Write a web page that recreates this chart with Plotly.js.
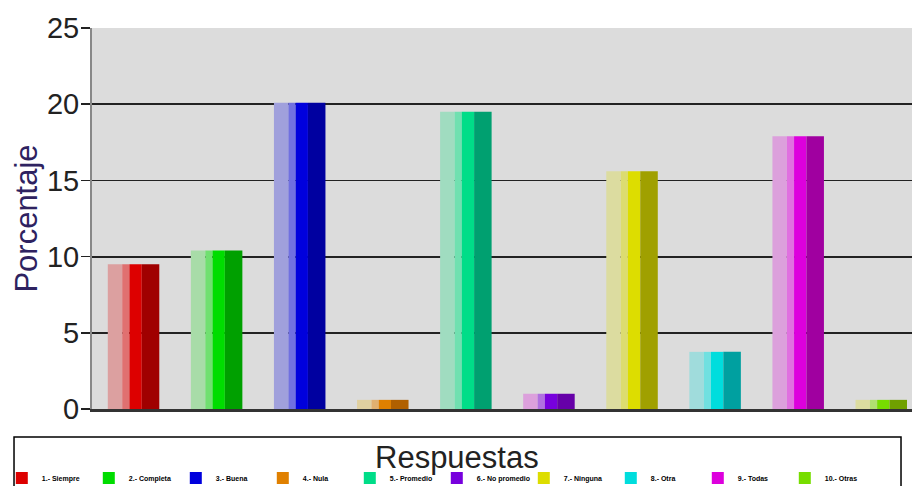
<!DOCTYPE html>
<html><head><meta charset="utf-8">
<script src="https://cdn.plot.ly/plotly-3.0.1.min.js"></script>
<style>html,body{margin:0;padding:0;background:#fff;}#chart{width:912px;height:486px;}</style>
</head><body><div id="chart"></div>
<script>
const categories = ["1.- Siempre","2.- Completa","3.- Buena","4.- Nula","5.- Promedio","6.- No promedio","7.- Ninguna","8.- Otra","9.- Todas","10.- Otras"];
const values = [9.5, 10.4, 20.1, 0.6, 19.5, 1.0, 15.6, 3.75, 17.9, 0.6];
const lightColors  = ["#dca0a0","#a8dca8","#a0a0dc","#e0d0a0","#a0dcc0","#dca0dc","#dcdca0","#a0dcdc","#dca0dc","#dcdca0"];
const midColors    = ["#e07070","#70e070","#7070e0","#e0b070","#70e0b0","#b070e0","#dcdc70","#70e0e0","#e070e0","#b0e070"];
const brightColors = ["#dd0000","#00dd00","#0000dd","#e08000","#00dd88","#7700dd","#dddd00","#00dddd","#dd00dd","#77dd00"];
const darkColors   = ["#a00000","#00a000","#0000a0","#b06000","#00a070","#6600a8","#a0a000","#00a0a0","#a000a0","#70a000"];
const xTitle = "Respuestas";
const yTitle = "Porcentaje";

const W = 0.62;
const stripes = [
  {c: lightColors, s: 0.0, e: 0.28},
  {c: midColors, s: 0.28, e: 0.42},
  {c: brightColors, s: 0.42, e: 0.66},
  {c: darkColors, s: 0.66, e: 1.0}
];
const traces = [];
categories.forEach((cat, i) => {
  stripes.forEach((st, k) => {
    traces.push({
      type: 'bar', x: [cat], y: [values[i]],
      name: cat, legendgroup: cat,
      showlegend: k === 2,
      width: (st.e - st.s) * W,
      offset: -W/2 + st.s * W,
      marker: {color: st.c[i], line: {width: 0}},
      hoverinfo: 'x+y'
    });
  });
});

const layout = {
  width: 912, height: 486,
  margin: {l: 92, r: 0, t: 28, b: 77, autoexpand: false},
  paper_bgcolor: '#ffffff', plot_bgcolor: '#dcdcdc',
  barmode: 'overlay',
  font: {family: 'Liberation Sans, Arial, sans-serif', color: '#222'},
  xaxis: {
    type: 'category', range: [-0.5, 9.37],
    showticklabels: false, ticks: '', showgrid: false,
    showline: true, linecolor: '#333', linewidth: 2.5, zeroline: false
  },
  yaxis: {
    range: [0, 25], dtick: 5, tick0: 0,
    ticks: 'outside', ticklen: 9, tickcolor: '#222', tickwidth: 1.5,
    tickfont: {size: 29, color: '#222'},
    ticklabelstandoff: -4,
    showgrid: true, gridcolor: '#222', gridwidth: 1.8,
    showline: true, linecolor: '#888', linewidth: 2,
    zeroline: false,
    title: {text: yTitle, font: {size: 31, color: '#2e2260'}, standoff: 0}
  },
  shapes: [{
    type: 'rect', xref: 'paper', yref: 'paper', layer: 'below',
    x0: -0.0951, x1: 0.9866, y0: -0.0735, y1: -0.3,
    line: {color: '#000', width: 1.5}, fillcolor: '#fff'
  }],
  annotations: [{
    text: xTitle, xref: 'paper', yref: 'paper', x: 0.445, y: -0.126,
    xanchor: 'center', yanchor: 'middle', showarrow: false,
    font: {size: 31, color: '#222'}
  }],
  legend: {
    orientation: 'h', x: -0.110, xanchor: 'left', y: -0.181, yanchor: 'middle',
    borderwidth: 0, bgcolor: 'rgba(0,0,0,0)',
    font: {size: 7, color: '#000', weight: 'bold'},
    entrywidth: 42, entrywidthmode: 'pixels',
    itemwidth: 30, traceorder: 'normal'
  },
  showlegend: true
};
Plotly.newPlot('chart', traces, layout, {displayModeBar: false, staticPlot: true});
</script></body></html>
